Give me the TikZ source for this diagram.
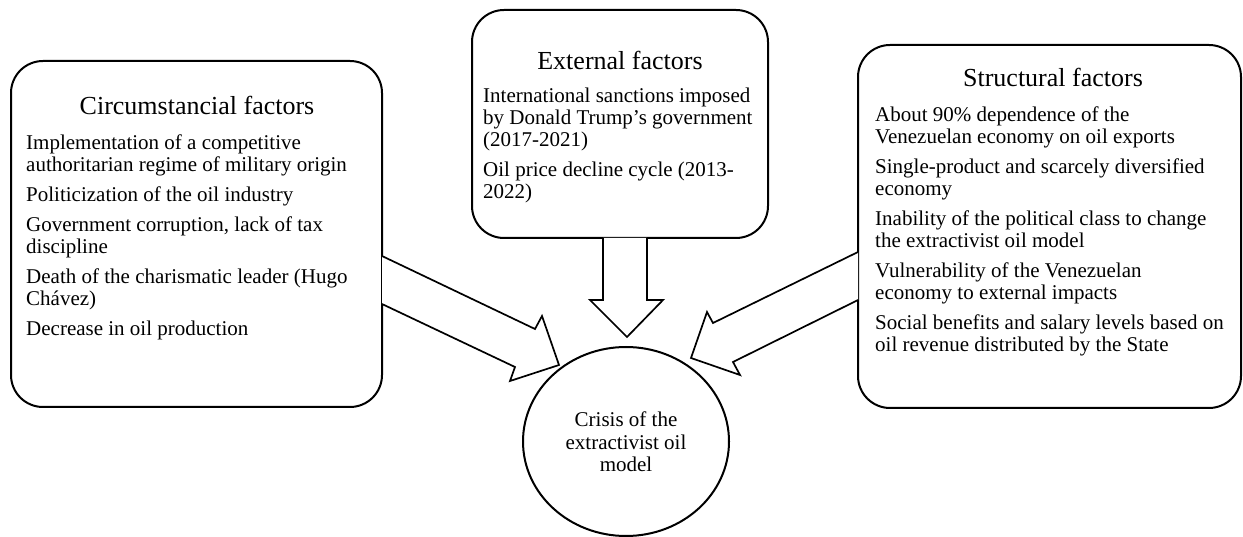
\documentclass[tikz,border=0pt]{standalone}
\usepackage{fontspec}
\setmainfont{Liberation Serif}
\usetikzlibrary{shapes.geometric}
\tikzset{
  box/.style={draw=black, line width=2pt, rounded corners=32pt, fill=white, inner sep=0pt, outer sep=0pt},
  blockarrow/.style={draw=black, line width=1.7pt, fill=white, line join=miter},
  bodytext/.style={anchor=base west, inner sep=0pt, font=\fontsize{21pt}{22pt}\selectfont},
  titletext/.style={anchor=base, inner sep=0pt, font=\fontsize{26pt}{30pt}\selectfont},
}
\newcommand{\itemgap}{\\[8pt]}
\begin{document}
\begin{tikzpicture}[x=1pt,y=-1pt]
\useasboundingbox (0,0) rectangle (1243,537);
% boxes
\node[box, minimum width=371pt, minimum height=346pt] (L) at (196.5,234) {};
\node[box, minimum width=296pt, minimum height=228pt] (C) at (620,124) {};
\node[box, minimum width=383pt, minimum height=363pt] (R) at (1049.5,226.5) {};
% arrows
\draw[blockarrow] (382,256) -- (535,329) -- (542,316) -- (559,365) -- (510,381) -- (515,367) -- (382,304);
\draw[blockarrow] (858,252) -- (713,323) -- (707,312) -- (691,358) -- (740,375) -- (733,362) -- (858,300);
\draw[blockarrow] (603,238) -- (603,300) -- (590,300) -- (627,337) -- (663,300) -- (647,300) -- (647,238);
% circle
\node[draw, line width=2pt, ellipse, minimum width=206pt, minimum height=189pt, inner sep=0pt, fill=white] (crisis) at (626,441.5) {};
\node[anchor=base, inner sep=0pt, font=\fontsize{21pt}{22pt}\selectfont] (crisistext) at (626,427)
  {\parbox[t]{180pt}{\centering Crisis of the\\extractivist oil\\model}};
% left text
\node[titletext] (Lt) at (197,115) {Circumstancial factors};
\node[bodytext] (Lb) at (26,150) {\parbox[t]{350pt}{\raggedright
Implementation of a competitive\\authoritarian regime of military origin\itemgap
Politicization of the oil industry\itemgap
Government corruption, lack of tax\\discipline\itemgap
Death of the charismatic leader (Hugo\\Chávez)\itemgap
Decrease in oil production}};
% center text
\node[titletext] (Ct) at (620,70) {External factors};
\node[bodytext] (Cb) at (483,103) {\parbox[t]{280pt}{\raggedright
International sanctions imposed\\by Donald Trump’s government\\(2017-2021)\itemgap
Oil price decline cycle (2013-\\2022)}};
% right text
\node[titletext] (Rt) at (1053,87) {Structural factors};
\node[bodytext] (Rb) at (875,122) {\parbox[t]{360pt}{\raggedright
About 90\% dependence of the\\Venezuelan economy on oil exports\itemgap
Single-product and scarcely diversified\\economy\itemgap
Inability of the political class to change\\the extractivist oil model\itemgap
Vulnerability of the Venezuelan\\economy to external impacts\itemgap
Social benefits and salary levels based on\\oil revenue distributed by the State}};
\end{tikzpicture}
\end{document}
